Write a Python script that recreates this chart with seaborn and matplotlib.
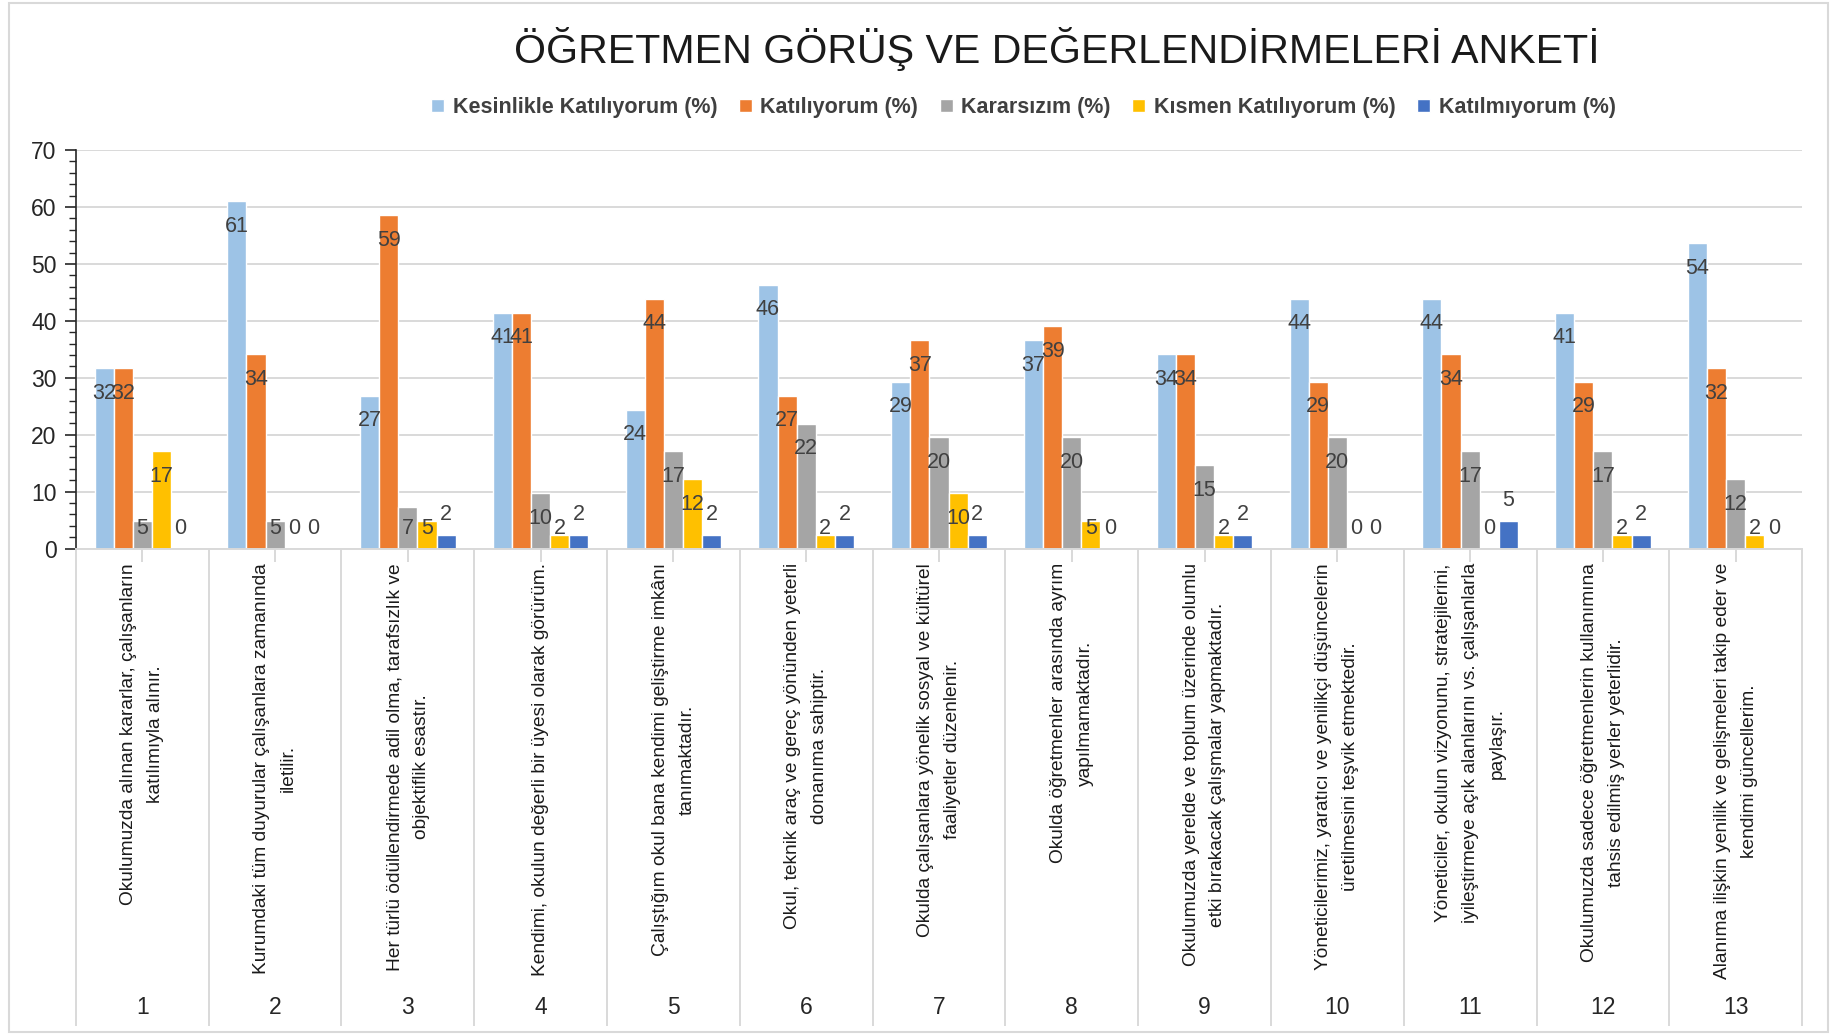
import matplotlib
matplotlib.use("Agg")
import numpy as np
import pandas as pd
import seaborn as sns
import matplotlib.pyplot as plt
from matplotlib.ticker import MultipleLocator
from matplotlib.patches import Rectangle

series = ["Kesinlikle Katılıyorum (%)", "Katılıyorum (%)", "Kararsızım (%)",
          "Kısmen Katılıyorum (%)", "Katılmıyorum (%)"]
colors = ["#9DC3E6", "#ED7D31", "#A5A5A5", "#FFC000", "#4472C4"]

item_no = [str(i) for i in range(1, 14)]
items = [
    "Okulumuzda alınan kararlar, çalışanların\nkatılımıyla alınır.",
    "Kurumdaki tüm duyurular çalışanlara zamanında\niletilir.",
    "Her türlü ödüllendirmede adil olma, tarafsızlık ve\nobjektiflik esastır.",
    "Kendimi, okulun değerli bir üyesi olarak görürüm.",
    "Çalıştığım okul bana kendimi geliştirme imkânı\ntanımaktadır.",
    "Okul, teknik araç ve gereç yönünden yeterli\ndonanıma sahiptir.",
    "Okulda çalışanlara yönelik sosyal ve kültürel\nfaaliyetler düzenlenir.",
    "Okulda öğretmenler arasında ayrım\nyapılmamaktadır.",
    "Okulumuzda yerelde ve toplum üzerinde olumlu\netki bırakacak çalışmalar yapmaktadır.",
    "Yöneticilerimiz, yaratıcı ve yenilikçi düşüncelerin\nüretilmesini teşvik etmektedir.",
    "Yöneticiler, okulun vizyonunu, stratejilerini,\niyileştirmeye açık alanlarını vs. çalışanlarla\npaylaşır.",
    "Okulumuzda sadece öğretmenlerin kullanımına\ntahsis edilmiş yerler yeterlidir.",
    "Alanıma ilişkin yenilik ve gelişmeleri takip eder ve\nkendimi güncellerim.",
]

kesinlikle = [31.71, 60.98, 26.83, 41.46, 24.39, 46.34, 29.27, 36.59, 34.15, 43.90, 43.90, 41.46, 53.66]
katiliyorum = [31.71, 34.15, 58.54, 41.46, 43.90, 26.83, 36.59, 39.02, 34.15, 29.27, 34.15, 29.27, 31.71]
kararsizim = [4.88, 4.88, 7.32, 9.76, 17.07, 21.95, 19.51, 19.51, 14.63, 19.51, 17.07, 17.07, 12.20]
kismen = [17.07, 0, 4.88, 2.44, 12.20, 2.44, 9.76, 4.88, 2.44, 0, 0, 2.44, 2.44]
katilmiyorum = [0, 0, 2.44, 2.44, 2.44, 2.44, 2.44, 0, 2.44, 0, 4.88, 2.44, 0]

values = [kesinlikle, katiliyorum, kararsizim, kismen, katilmiyorum]
df = pd.DataFrame({
    "item": np.tile(item_no, len(series)),
    "series": np.repeat(series, len(item_no)),
    "value": np.concatenate(values),
})

sns.set_style("white")
plt.rcParams["font.family"] = ["Liberation Sans", "DejaVu Sans"]

fig = plt.figure(figsize=(18.34, 10.35), dpi=100)
ax = fig.add_axes([0.0414, 0.470, 0.9412, 0.385])

sns.barplot(data=df, x="item", y="value", hue="series", order=item_no,
            hue_order=series, palette=colors, width=0.72, gap=0,
            saturation=1, ax=ax)

ax.set_xlim(-0.5, len(item_no) - 0.5)
ax.set_ylim(0, 70)
ax.yaxis.set_major_locator(MultipleLocator(10))
ax.yaxis.set_minor_locator(MultipleLocator(2))
ax.grid(axis="y", color="#D9D9D9", lw=1.4)
ax.set_axisbelow(True)
ax.set_xlabel("")
ax.set_ylabel("")
ax.set_xticklabels([])
for s in ["top", "right"]:
    ax.spines[s].set_visible(False)
ax.spines["left"].set_color("#262626")
ax.spines["left"].set_linewidth(1.2)
ax.spines["bottom"].set_color("#D9D9D9")
ax.spines["bottom"].set_linewidth(1.4)
ax.tick_params(axis="y", which="major", left=True, length=8, width=1.2,
               color="#262626", labelsize=16.5, labelcolor="#262626", pad=6)
ax.tick_params(axis="y", which="minor", left=True, length=5, width=1.0,
               color="#262626")
ax.tick_params(axis="x", bottom=True, length=9, width=1.4, color="#D9D9D9")

# data labels
for si, cont in enumerate(ax.containers):
    for bar, v in zip(cont, values[si]):
        xc = bar.get_x() + bar.get_width() / 2
        if si == 4 and v > 0:
            yl = v + 3.6
        else:
            yl = max(v - 4.4, 3.5)
        ax.text(xc, yl, f"{v:.0f}", ha="center", va="center",
                fontsize=15.5, color="#404040")

# category axis: separators, statements, numbers
xt = ax.get_xaxis_transform()
ax.vlines(np.arange(len(item_no) + 1) - 0.5, -1.198, 0, transform=xt,
          color="#D9D9D9", lw=1.4, clip_on=False)
for i, (no, txt) in enumerate(zip(item_no, items)):
    ax.text(i, -0.036, txt, transform=xt, rotation=90, ha="center", va="top",
            multialignment="center", fontsize=13.8, linespacing=1.75,
            color="#1a1a1a", family=["Liberation Sans Narrow", "Liberation Sans", "DejaVu Sans"])
    ax.text(i, -1.153, no, transform=xt, ha="center", va="center",
            fontsize=16.5, color="#262626")

handles, labels = ax.get_legend_handles_labels()
ax.get_legend().remove()
fig.legend(handles, labels, loc="center", bbox_to_anchor=(0.558, 0.896),
           ncol=5, frameon=False, handlelength=0.6, handleheight=0.6,
           handletextpad=0.4, columnspacing=1.0,
           prop={"weight": "bold", "size": 15.5}, labelcolor="#404040")

fig.text(0.576, 0.953, "ÖĞRETMEN GÖRÜŞ VE DEĞERLENDİRMELERİ ANKETİ",
         ha="center", va="center", fontsize=29.6, color="#1a1a1a")

fig.patches.append(Rectangle((9 / 1834, 3 / 1035), 1819 / 1834, 1029 / 1035,
                             transform=fig.transFigure, fill=False,
                             edgecolor="#D9D9D9", lw=1.5))

fig.savefig("out.png", dpi=100)
